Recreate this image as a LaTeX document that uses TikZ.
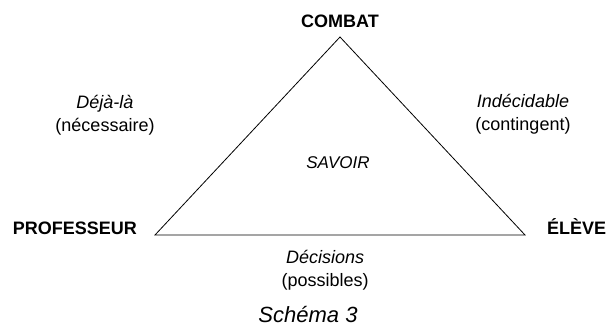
\documentclass[tikz,border=0pt]{standalone}
\usepackage{fontspec}
\setmainfont{Liberation Sans}
\usetikzlibrary{positioning, calc}
\tikzset{
  font=\fontsize{18}{23}\selectfont,
  %
  pole/.style={font=\fontsize{18}{20}\selectfont\bfseries, inner sep=0pt},
  axe/.style={align=center, inner sep=0pt, font=\fontsize{18}{23}\selectfont},
  centre/.style={inner sep=0pt, font=\fontsize{17}{19}\selectfont\itshape},
  titre/.style={inner sep=0pt, font=\fontsize{22}{24}\selectfont\itshape},
  %
  side/.style={draw=black, line width=0.8pt, line join=miter},
}

\begin{document}
\begin{tikzpicture}[x=1pt, y=-1pt]
\useasboundingbox (0,0) rectangle (607,336);

% ---------------------------------------------------------------- triangle
\coordinate (sommet) at (340,37);
\coordinate (gauche) at (155,235);
\coordinate (droite) at (525,235);
\draw[side] (sommet) -- (gauche) -- (droite) -- cycle;

% ---------------------------------------------------------------- poles
\node[pole, above=9pt of sommet] (combat) {COMBAT};
\node[pole, anchor=base east] (prof) at ([xshift=-18pt]gauche) {PROFESSEUR};
\node[pole, anchor=base west] (eleve) at ([xshift=22pt]droite) {ÉLÈVE};

% ---------------------------------------------------------------- axes
\node[axe] (dejala) at (105,115) {\textit{Déjà-là}\\(nécessaire)};
\node[axe] (indec) at (523,114) {\textit{Indécidable}\\(contingent)};
\node[axe] (decis) at ($(gauche)!0.46!(droite) + (0,35)$)
  {\textit{Décisions}\\(possibles)};
\node[centre] (savoir) at (338,163) {SAVOIR};

\node[titre] (schema) at (308,315) {Schéma 3};

\end{tikzpicture}
\end{document}
